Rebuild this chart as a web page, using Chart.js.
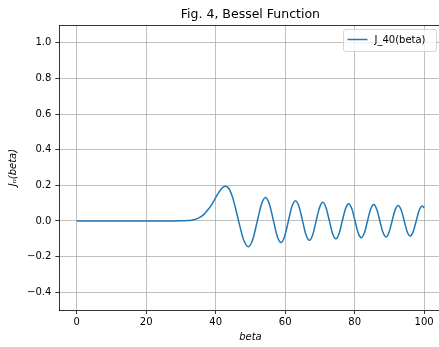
<!DOCTYPE html>
<html>
<head>
<meta charset="utf-8">
<title>Fig. 4, Bessel Function</title>
<script src="https://cdn.jsdelivr.net/npm/chart.js@4.4.1/dist/chart.umd.min.js"></script>
<style>
  html, body { margin: 0; padding: 0; background: #fff; overflow: hidden; }
  #wrap { width: 439px; height: 347px; overflow: hidden; }
  canvas { display: block; }
</style>
</head>
<body>
<div id="wrap"><canvas id="besselChart" width="443" height="347"></canvas></div>
<script>
// values
const beta = [0, 10, 20, 25, 28, 30, 31, 32, 33, 34, 35, 36, 37, 38, 39, 40, 41, 42, 42.8, 44, 45, 46,
    46.59, 48.07, 49.44, 50.74, 52.0, 53.2, 54.38, 55.52, 56.64, 57.74, 58.82, 59.89, 60.94,
    61.97, 62.99, 64.0, 65.01, 66.0, 66.98, 67.96, 68.92, 69.89, 70.84, 71.79, 72.73,
    73.67, 74.6, 75.53, 76.45, 77.37, 78.29, 79.2, 80.11, 81.01, 81.92, 82.82, 83.71,
    84.6, 85.49, 86.38, 87.27, 88.15, 89.03, 89.91, 90.78, 91.66, 92.53, 93.4, 94.27,
    95.13, 96.0, 96.86, 97.72, 98.58, 99.44, 100];
const j40 = [0, 0, 0, 0, 0, 0.0004, 0.0009, 0.002, 0.0042, 0.0082, 0.0155, 0.027, 0.045, 0.068, 0.096, 0.131, 0.163, 0.188, 0.195, 0.176, 0.124, 0.049,
    0, -0.107, -0.145, -0.1, 0, 0.095, 0.131, 0.091, 0, -0.087, -0.121, -0.084, 0,
    0.082, 0.114, 0.08, 0, -0.078, -0.109, -0.076, 0, 0.0745, 0.1045, 0.073, 0,
    -0.072, -0.1005, -0.0705, 0, 0.069, 0.097, 0.068, 0, -0.067, -0.094, -0.066, 0,
    0.065, 0.092, 0.064, 0, -0.064, -0.0895, -0.063, 0, 0.062, 0.087, 0.061, 0,
    -0.061, -0.085, -0.06, 0, 0.0595, 0.0835, 0.073];
const xTicks = [0, 20, 40, 60, 80, 100];
const yTicks = [-0.4, -0.2, 0.0, 0.2, 0.4, 0.6, 0.8, 1.0];

const FONT = "'DejaVu Sans', 'Liberation Sans', sans-serif";

// matplotlib style top spine, title and legend
const mplLook = {
    id: 'mplLook',
    afterDraw(chart) {
        const ctx = chart.ctx;
        const a = chart.chartArea;
        ctx.save();
        // top spine (the right one falls outside the window)
        ctx.strokeStyle = '#000';
        ctx.lineWidth = 0.8;
        ctx.beginPath();
        ctx.moveTo(a.left, Math.round(a.top) + 0.5);
        ctx.lineTo(a.right, Math.round(a.top) + 0.5);
        ctx.stroke();

        // title
        ctx.fillStyle = '#000';
        ctx.font = '12.5px ' + FONT;
        ctx.textAlign = 'center';
        ctx.textBaseline = 'alphabetic';
        ctx.fillText(chart.options.plugins.mplTitle.text, (a.left + a.right) / 2, 17.5);

        // legend box, anchored to the upper right of the axes
        const ds = chart.data.datasets[0];
        const bw = 93, bh = 22;
        const bx = a.right - 5 - bw, by = a.top + 4.5;
        ctx.beginPath();
        ctx.roundRect(bx, by, bw, bh, 2.5);
        ctx.fillStyle = 'rgba(255,255,255,0.8)';
        ctx.fill();
        ctx.strokeStyle = '#cccccc';
        ctx.lineWidth = 0.8;
        ctx.stroke();
        ctx.beginPath();
        ctx.moveTo(bx + 4, by + 10);
        ctx.lineTo(bx + 24, by + 10);
        ctx.strokeStyle = ds.borderColor;
        ctx.lineWidth = 1.5;
        ctx.stroke();
        ctx.fillStyle = '#000';
        ctx.font = '10px ' + FONT;
        ctx.textAlign = 'left';
        ctx.textBaseline = 'middle';
        ctx.fillText(ds.label, bx + 31, by + 10.5);
        ctx.restore();
    }
};

const ctx = document.getElementById('besselChart').getContext('2d');
new Chart(ctx, {
    type: 'line',
    data: {
        datasets: [{
            label: 'J_40(beta)',
            data: beta.map((b, i) => ({ x: b, y: j40[i] })),
            borderColor: '#1f77b4',
            borderWidth: 1.5,
            pointRadius: 0,
            fill: false,
            cubicInterpolationMode: 'monotone'
        }]
    },
    options: {
        responsive: false,
        animation: false,
        devicePixelRatio: 1,
        layout: { padding: { top: 25, right: 1.5, bottom: 0, left: 0 } },
        plugins: {
            legend: { display: false },
            tooltip: { enabled: false },
            title: { display: false },
            mplTitle: { text: 'Fig. 4, Bessel Function' }
        },
        scales: {
            x: {
                type: 'linear',
                min: -5,
                max: 105,
                afterFit: s => { s.height = 37; s.paddingLeft = 0; s.paddingRight = 0; },
                afterBuildTicks: s => { s.ticks = xTicks.map(v => ({ value: v })); },
                ticks: {
                    font: { family: FONT, size: 10 },
                    color: '#000',
                    padding: 2,
                    maxRotation: 0,
                    callback: v => String(v)
                },
                grid: { color: '#b0b0b0', lineWidth: 0.8, tickLength: 4, tickColor: '#000', tickWidth: 0.8 },
                border: { color: '#000', width: 0.8 },
                title: {
                    display: true,
                    text: 'beta',
                    color: '#000',
                    font: { family: FONT, size: 10, style: 'italic' },
                    padding: { bottom: 3.3 }
                }
            },
            y: {
                type: 'linear',
                min: -0.5,
                max: 1.1,
                afterFit: s => { s.width = 59.3; s.paddingTop = 0; s.paddingBottom = 0; },
                afterBuildTicks: s => { s.ticks = yTicks.map(v => ({ value: v })); },
                ticks: {
                    font: { family: FONT, size: 10 },
                    color: '#000',
                    padding: 4,
                    callback: v => v.toFixed(1).replace('-', '\u2212')
                },
                grid: { color: '#b0b0b0', lineWidth: 0.8, tickLength: 4, tickColor: '#000', tickWidth: 0.8 },
                border: { color: '#000', width: 0.8 },
                title: {
                    display: true,
                    text: 'J\u2099(beta)',
                    color: '#000',
                    font: { family: FONT, size: 10, style: 'italic' },
                    padding: { top: 7 }
                }
            }
        }
    },
    plugins: [mplLook]
});
</script>
</body>
</html>
